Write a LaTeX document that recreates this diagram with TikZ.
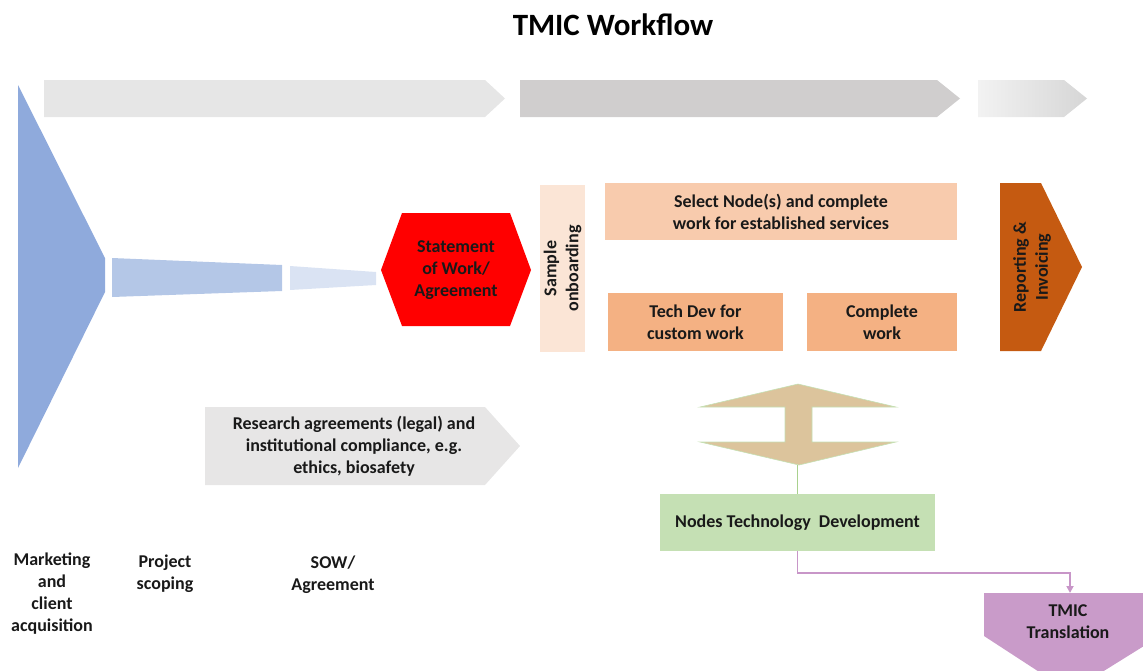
\documentclass[tikz,border=0pt]{standalone}
\usepackage{fontspec}
\setmainfont{Carlito}
\usetikzlibrary{arrows.meta}
\definecolor{arrA}{HTML}{E6E6E6}
\definecolor{arrB}{HTML}{D0CECE}
\definecolor{arrC}{HTML}{D6D6D6}
\definecolor{funA}{HTML}{8FAADC}
\definecolor{funB}{HTML}{B4C7E7}
\definecolor{funC}{HTML}{DAE3F3}
\definecolor{sowred}{HTML}{FF0000}
\definecolor{onb}{HTML}{FBE5D6}
\definecolor{selbox}{HTML}{F8CBAD}
\definecolor{techbox}{HTML}{F4B183}
\definecolor{repbox}{HTML}{C55A11}
\definecolor{tan}{HTML}{DCC49C}
\definecolor{lgreen}{HTML}{C5E0B4}
\definecolor{gline}{HTML}{A9D18E}
\definecolor{purp}{HTML}{C99BC9}
\definecolor{purpline}{HTML}{C896C8}
\definecolor{resgray}{HTML}{E7E6E6}
\begin{document}
\begin{tikzpicture}[x=1pt,y=-1pt,
  txt/.style={font=\bfseries\fontsize{18}{22}\selectfont, align=center, text=black!90},
  boxn/.style={txt, inner sep=0pt, anchor=center}]
\useasboundingbox (0,0) rectangle (1143,670);
\clip (0,0) rectangle (1143,670);

% title
\node[font=\bfseries\fontsize{31}{36}\selectfont] (title) at (613,25) {TMIC Workflow};

% top phase arrows
\fill[arrA] (44,80) -- (485,80) -- (505,98.5) -- (485,117) -- (44,117) -- cycle;
\fill[arrB] (520,80) -- (937,80) -- (960,98.5) -- (937,117) -- (520,117) -- cycle;
\shade[left color=white!95!black, right color=arrC] (978,80) -- (1064,80) -- (1087,98.5) -- (1064,117) -- (978,117) -- cycle;

% funnel
\fill[funA] (18,85) -- (105,258) -- (105,292) -- (18,468) -- cycle;
\fill[funB] (112,258) -- (282,265) -- (282,291) -- (112,297) -- cycle;
\fill[funC] (290,266) -- (376,272) -- (376,285) -- (290,290) -- cycle;

% statement of work hexagon
\fill[sowred] (381,270) -- (402,213) -- (510,213) -- (531,270) -- (510,326) -- (402,326) -- cycle;
\node[boxn] (sow) at (456,270) {Statement\\of Work/\\Agreement};

% sample onboarding
\node[boxn, fill=onb, minimum width=45pt, minimum height=167pt] (onbox) at (562.5,268.5) {};
\node[boxn, rotate=90] (onbtxt) at (562.5,268.5) {Sample\\onboarding};

% select nodes
\node[boxn, fill=selbox, minimum width=352pt, minimum height=57pt] (sel) at (781,211.5) {Select Node(s) and complete\\work for established services};
\node[boxn, fill=techbox, minimum width=175pt, minimum height=58pt] (tech) at (695.5,322) {Tech Dev for\\custom work};
\node[boxn, fill=techbox, minimum width=150pt, minimum height=58pt] (comp) at (882,322) {Complete\\work};

% reporting & invoicing
\fill[repbox] (1000,183) -- (1041,183) -- (1082,267) -- (1041,351) -- (1000,351) -- cycle;
\node[boxn, rotate=90] (rep) at (1032,267) {Reporting \&\\Invoicing};

% double arrow
\fill[tan, draw=lgreen, line width=0.6pt] (798,384) -- (896,407) -- (812,407) -- (812,442) -- (896,442) -- (799,465) -- (700,442) -- (785,442) -- (785,407) -- (700,407) -- cycle;
\coordinate (dabot) at (797.5,465);

% nodes technology development
\node[boxn, fill=lgreen, minimum width=275pt, minimum height=57pt] (ntd) at (797.5,522.5) {Nodes Technology\ \ Development};
\draw[gline, line width=1pt] (dabot) -- (ntd.north);

% TMIC translation
\fill[purp] (984,593) -- (1160,593) -- (1160,636) -- (1070,692) -- (984,636) -- cycle;
\node[boxn] (tt) at (1068,622) {TMIC\\Translation};
\coordinate (ttop) at (1070,593);
\draw[purpline, line width=1.8pt, -{Triangle[length=7pt,width=7pt]}] (ntd.south) -- ++(0,22) -| (ttop);

% research agreements
\fill[resgray] (205,407) -- (485,407) -- (520,446) -- (485,485) -- (205,485) -- cycle;
\node[boxn] (res) at (354,446) {Research agreements (legal) and\\institutional compliance, e.g.\\ethics, biosafety};

% bottom labels
\node[boxn] (mkt) at (52,594) {Marketing\\and\\client\\acquisition};
\node[boxn] (scope) at (165,574) {Project\\scoping};
\node[boxn] (sowl) at (333,575) {SOW/\\Agreement};
\end{tikzpicture}
\end{document}
